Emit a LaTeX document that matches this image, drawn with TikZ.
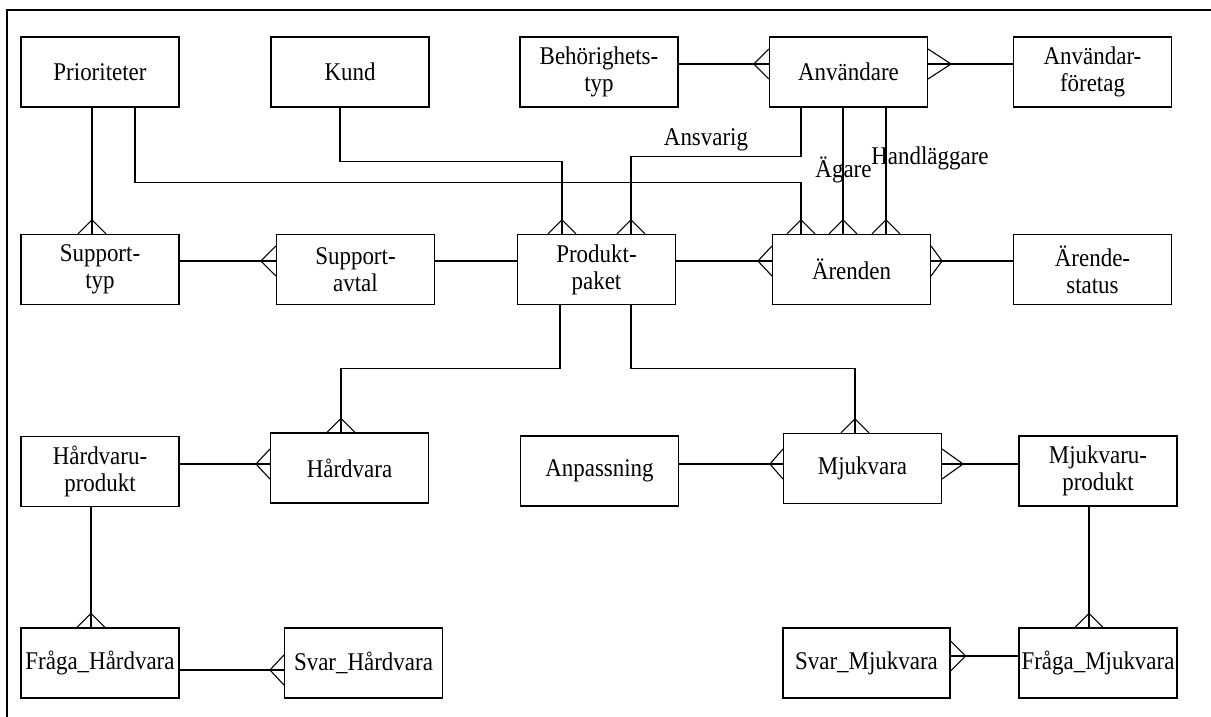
\documentclass[tikz,border=0pt]{standalone}
\usepackage{fontspec}
\setmainfont{Liberation Serif}[FakeStretch=0.9]

\tikzset{
  crow top/.pic={\draw (-14,0) -- (0,-#1) -- (14,0);},
  crow left/.pic={\draw (0,-15) -- (-#1,0) -- (0,15);},
  crow right/.pic={\draw (0,-15) -- (#1,0) -- (0,15);}
}

\begin{document}
\begin{tikzpicture}[x=1pt,y=-1pt,line width=1.1pt,
    entity/.style={rectangle,draw,minimum width=158pt,minimum height=70pt,
      inner sep=2pt,align=center,font=\fontsize{25.5}{27}\selectfont},
    role/.style={font=\fontsize{25.5}{27}\selectfont,inner sep=0pt}]
    \useasboundingbox (0,0) rectangle (1211,717);
    \draw[line width=1.6pt] (7,720) -- (7,10) -- (1215,10);
    \node[entity] (prio) at (100,72) {Prioriteter};
    \node[entity] (kund) at (350,72) {Kund};
    \node[entity] (behor) at (599,72) {Behörighets-\\typ};
    \node[entity] (anv) at (848.5,72) {Användare};
    \node[entity] (anvf) at (1092.5,72) {Användar-\\företag};
    \node[entity] (stype) at (100,269.5) {Support-\\typ};
    \node[entity] (savtal) at (355.5,269.5) {Support-\\avtal};
    \node[entity] (prod) at (596.5,269.5) {Produkt-\\paket};
    \node[entity] (arend) at (851.5,269.5) {Ärenden};
    \node[entity] (astatus) at (1092.5,269.5) {Ärende-\\status};
    \node[entity] (hwprod) at (100,471.5) {Hårdvaru-\\produkt};
    \node[entity] (hw) at (349.5,468) {Hårdvara};
    \node[entity] (anp) at (599.5,471) {Anpassning};
    \node[entity] (sw) at (862.5,468.5) {Mjukvara};
    \node[entity] (swprod) at (1098,471) {Mjukvaru-\\produkt};
    \node[entity] (qhw) at (100,663) {Fråga\_Hårdvara};
    \node[entity] (ahw) at (363.5,663) {Svar\_Hårdvara};
    \node[entity,minimum width=167pt] (asw) at (866.5,663) {Svar\_Mjukvara};
    \node[entity] (qsw) at (1098,663) {Fråga\_Mjukvara};
    % top row down to second row
    \draw ([xshift=-8pt]prio.south) -- ([xshift=-8pt]stype.north);
    \pic at ([xshift=-8pt]stype.north) {crow top=14};
    \draw ([xshift=35pt]prio.south) -- ++(0,75) -| ([xshift=-50.5pt]arend.north);
    \pic at ([xshift=-50.5pt]arend.north) {crow top=14};
    \draw ([xshift=-10pt]kund.south) -- ++(0,54) -| ([xshift=-34.5pt]prod.north);
    \pic at ([xshift=-34.5pt]prod.north) {crow top=14};
    \draw ([xshift=-47.5pt]anv.south) -- ++(0,49) -| ([xshift=34.5pt]prod.north);
    \pic at ([xshift=34.5pt]prod.north) {crow top=14};
    \draw ([xshift=-5.5pt]anv.south) -- ([xshift=-8.5pt]arend.north);
    \pic at ([xshift=-8.5pt]arend.north) {crow top=14};
    \draw ([xshift=37.5pt]anv.south) -- ([xshift=34.5pt]arend.north);
    \pic at ([xshift=34.5pt]arend.north) {crow top=14};
    \node[role] (ansv) at (706,140) {Ansvarig};
    \node[role] (agare) at (843.5,170) {Ägare};
    \node[role] (handl) at (930,158) {Handläggare};
    \draw ([yshift=8pt]behor.east) -- ([yshift=8pt]anv.west);
    \pic at ([yshift=8pt]anv.west) {crow left=15};
    \draw ([yshift=8pt]anv.east) -- ([yshift=8pt]anvf.west);
    \pic at ([yshift=8pt]anv.east) {crow right=23};
    % second row
    \draw ([yshift=8.5pt]stype.east) -- ([yshift=8.5pt]savtal.west);
    \pic at ([yshift=8.5pt]savtal.west) {crow left=15};
    \draw ([yshift=8.5pt]savtal.east) -- ([yshift=8.5pt]prod.west);
    \draw ([yshift=8.5pt]prod.east) -- ([yshift=8.5pt]arend.west);
    \pic at ([yshift=8.5pt]arend.west) {crow left=14};
    \draw ([yshift=8.5pt]arend.east) -- ([yshift=8.5pt]astatus.west);
    \pic at ([yshift=8.5pt]arend.east) {crow right=11};
    \draw ([xshift=-36.5pt]prod.south) -- ++(0,63) -| ([xshift=-8.5pt]hw.north);
    \pic at ([xshift=-8.5pt]hw.north) {crow top=14};
    \draw ([xshift=34.5pt]prod.south) -- ++(0,63) -| ([xshift=-7.5pt]sw.north);
    \pic at ([xshift=-7.5pt]sw.north) {crow top=14};
    % third and fourth row
    \draw ([yshift=7.5pt]hwprod.east) -- ([yshift=4pt]hw.west);
    \pic at ([yshift=4pt]hw.west) {crow left=14};
    \draw ([yshift=7pt]anp.east) -- ([yshift=4.5pt]sw.west);
    \pic at ([yshift=4.5pt]sw.west) {crow left=13};
    \draw ([yshift=4.5pt]sw.east) -- ([yshift=7pt]swprod.west);
    \pic at ([yshift=4.5pt]sw.east) {crow right=21};
    \draw ([xshift=-9pt]hwprod.south) -- ([xshift=-9pt]qhw.north);
    \pic at ([xshift=-9pt]qhw.north) {crow top=14};
    \draw ([xshift=-9pt]swprod.south) -- ([xshift=-9pt]qsw.north);
    \pic at ([xshift=-9pt]qsw.north) {crow top=14};
    \draw ([yshift=-7pt]qhw.east) -- ([yshift=-7pt]ahw.west);
    \pic at ([yshift=-7pt]ahw.west) {crow left=14};
    \draw ([yshift=7pt]asw.east) -- ([yshift=7pt]qsw.west);
    \pic at ([yshift=7pt]asw.east) {crow right=15};
\end{tikzpicture}
\end{document}
